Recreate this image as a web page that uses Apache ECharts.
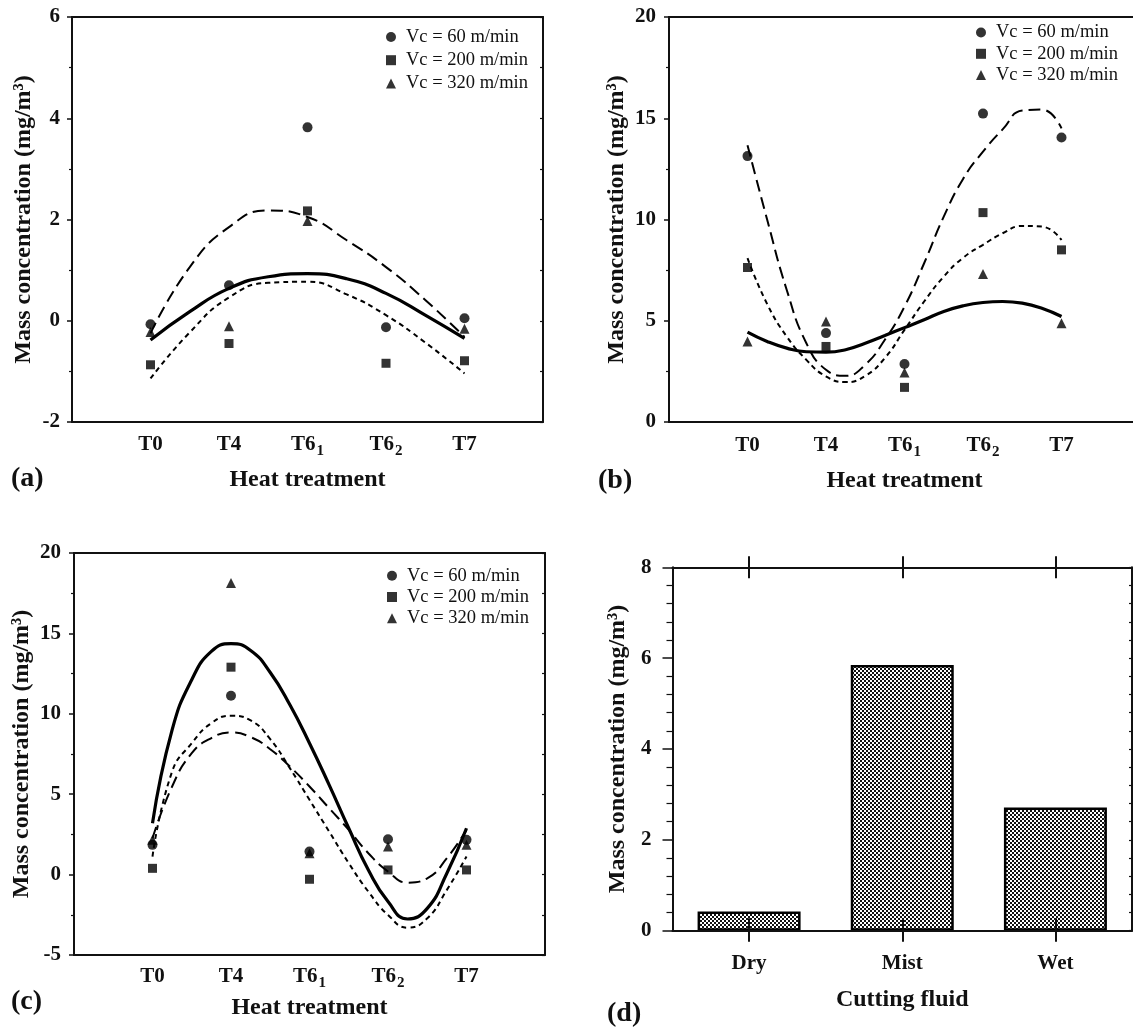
<!DOCTYPE html>
<html><head><meta charset="utf-8">
<script src="https://cdn.jsdelivr.net/npm/echarts@6/dist/echarts.min.js"></script>
<style>html,body{margin:0;padding:0;background:#fff}#c{width:1133px;height:1028px}</style>
</head><body><div id="c"></div>
<script>
// ---------- DATA ----------
const catIdx  = [0, 1, 2, 3, 4];
const catMain = ['T0', 'T4', 'T6', 'T6', 'T7'];
const catSub  = ['', '', '1', '2', ''];
const N60 = 'Vc = 60 m/min', N200 = 'Vc = 200 m/min', N320 = 'Vc = 320 m/min';

// panel (a)
const a60  = [-0.07, 0.70, 3.82, -0.13, 0.05];
const a200 = [-0.87, -0.45, 2.17, -0.84, -0.79];
const a320 = [-0.22, -0.11, 1.97, null, -0.16];
const aFitX   = [0, 0.5, 1, 1.5, 2, 2.5, 3, 3.5, 4];
const aFit60  = [-0.25, 1.06, 1.85, 2.18, 2.05, 1.59, 1.06, 0.41, -0.32];
const aFit200 = [-1.14, -0.23, 0.46, 0.75, 0.77, 0.52, 0.11, -0.43, -1.04];
const aFit320 = [-0.38, 0.18, 0.64, 0.87, 0.93, 0.83, 0.54, 0.11, -0.35];

// panel (b)
const b60  = [13.13, 4.39, 2.86, 15.23, 14.05];
const b200 = [7.63, 3.73, 1.71, 10.34, 8.50];
const b320 = [3.98, 4.96, 2.45, 7.31, 4.88];
const bFitX   = [0, 0.25, 0.5, 0.75, 1, 1.25, 1.5, 1.75, 2, 2.25, 2.5, 2.75, 3, 3.25, 3.5, 3.75, 4];
const bFit60  = [13.67, 10.0, 6.52, 3.89, 2.58, 2.28, 2.83, 4.06, 5.70, 7.84, 10.14, 12.03, 13.35, 14.45, 15.38, 15.43, 14.50];
const bFit200 = [8.09, 5.83, 4.22, 3.07, 2.25, 1.97, 2.28, 3.16, 4.55, 5.95, 7.18, 8.12, 8.75, 9.32, 9.68, 9.65, 8.99];
const bFit320 = [4.44, 3.98, 3.65, 3.47, 3.45, 3.57, 3.89, 4.27, 4.66, 5.05, 5.46, 5.74, 5.90, 5.95, 5.87, 5.62, 5.21];

// panel (c)
const c60  = [1.85, 11.12, 1.43, 2.20, 2.16];
const c200 = [0.39, 12.90, -0.29, 0.29, 0.29];
const c320 = [2.16, 18.13, 1.33, 1.74, 1.85];
const cFitX   = [0, 0.25, 0.5, 0.75, 1, 1.25, 1.5, 1.75, 2, 2.25, 2.5, 2.75, 3, 3.25, 3.5, 3.75, 4];
const cFit60  = [2.26, 5.48, 7.55, 8.49, 8.84, 8.55, 7.80, 6.72, 5.48, 4.13, 2.78, 1.33, 0.19, -0.50, -0.23, 1.02, 2.78];
const cFit200 = [1.12, 6.41, 8.17, 9.42, 9.88, 9.59, 8.42, 6.62, 4.65, 2.68, 0.71, -1.06, -2.51, -3.30, -2.72, -0.95, 1.12];
const cFit320 = [3.20, 9.00, 12.12, 13.88, 14.36, 13.94, 12.57, 10.56, 8.17, 5.58, 2.88, 0.29, -1.68, -2.76, -2.10, 0.08, 2.88];

// panel (d)
const dCat  = ['Dry', 'Mist', 'Wet'];
const dVals = [0.42, 5.85, 2.71];

// ---------- STYLE ----------
const F = "'Liberation Serif','Times New Roman',serif";
const K = '#111';
const yName = 'Mass concentration (mg/m\u00B3)';
const titleStyle = {fontFamily: F, fontSize: 24, fontWeight: 'bold', color: K};
const tickStyle = {fontFamily: F, fontSize: 21, fontWeight: 'bold', color: K};
const solidL = {color: '#000', width: 3.2, type: 'solid'};
const longL  = {color: '#000', width: 2, type: [12, 6]};
const shortL = {color: '#000', width: 2, type: [5, 4]};
const spine = {color: K, width: 2};
const dRect = {left: 672.5, top: 567.3, width: 459.5, height: 363.4, outerBoundsMode: 'none'};

const catRich = {
  m: {fontFamily: F, fontSize: 21, fontWeight: 'bold', color: K, lineHeight: 22, verticalAlign: 'top'},
  s: {fontFamily: F, fontSize: 15, fontWeight: 'bold', color: K, lineHeight: 15, verticalAlign: 'top', padding: [10, 0, 0, 1]}
};
function catFmt(v) {
  const i = Math.round(v);
  if (Math.abs(v - i) > 1e-6 || i < 0 || i > 4) return '';
  return catSub[i] ? '{m|' + catMain[i] + '}{s|' + catSub[i] + '}' : '{m|' + catMain[i] + '}';
}

function xBottom(gi, gap, margin) {
  return {type: 'value', gridIndex: gi, position: 'bottom', min: -1, max: 5, interval: 1,
    axisLine: {show: true, onZero: false, lineStyle: spine},
    axisTick: {show: false}, splitLine: {show: false},
    axisLabel: {margin: margin, formatter: catFmt, rich: catRich, color: K},
    name: 'Heat treatment', nameLocation: 'middle', nameGap: gap, nameTextStyle: titleStyle};
}
function xTop(gi) {
  return {type: 'value', gridIndex: gi, position: 'top', min: -1, max: 5, interval: 1,
    axisLine: {show: true, onZero: false, lineStyle: spine},
    axisTick: {show: false}, axisLabel: {show: false}, splitLine: {show: false}};
}
function yLeft(gi, min, max, interval, gap, margin, tickLen, minorSplit, minorLen) {
  return {type: 'value', gridIndex: gi, position: 'left', min: min, max: max, interval: interval,
    axisLine: {show: true, onZero: false, lineStyle: spine},
    axisTick: {show: true, length: tickLen, lineStyle: {color: K, width: 1.5}},
    minorTick: {show: true, splitNumber: minorSplit, length: minorLen, lineStyle: {color: K, width: 1.2}},
    splitLine: {show: false}, minorSplitLine: {show: false},
    axisLabel: Object.assign({margin: margin}, tickStyle),
    name: yName, nameLocation: 'middle', nameGap: gap, nameTextStyle: titleStyle};
}
function yRight(gi, min, max, interval) {
  return {type: 'value', gridIndex: gi, position: 'right', min: min, max: max, interval: interval,
    axisLine: {show: true, onZero: false, lineStyle: spine},
    axisTick: {show: true, inside: true, length: 3, lineStyle: {color: K, width: 1.2}},
    axisLabel: {show: false}, splitLine: {show: false}};
}
function dCatAxis(gi, pos, showLine, inside, len) {
  return {type: 'category', gridIndex: gi, position: pos, data: dCat, z: 5,
    axisLine: {show: showLine, onZero: false, lineStyle: spine},
    axisTick: {show: true, inside: inside, alignWithLabel: true, length: len, lineStyle: {color: K, width: 2}},
    axisLabel: {show: false}, splitLine: {show: false}};
}
function scat(name, sym, size, gi, vals) {
  const pts = [];
  catIdx.forEach(function (x, i) { if (vals[i] !== null) pts.push([x, vals[i]]); });
  return {type: 'scatter', name: name, xAxisIndex: gi * 2, yAxisIndex: gi * 2, symbol: sym,
    symbolSize: size, itemStyle: {color: '#000'}, z: 4, silent: true, data: pts};
}
function fit(gi, xs, ys, style) {
  return {type: 'line', xAxisIndex: gi * 2, yAxisIndex: gi * 2, showSymbol: false, symbol: 'none',
    smooth: 0.5, lineStyle: style, z: 3, silent: true,
    data: xs.map(function (x, i) { return [x, ys[i]]; })};
}
function legend(left, top, gap) {
  return {orient: 'vertical', left: left, top: top, itemGap: gap, itemWidth: 10, itemHeight: 10,
    selectedMode: false, padding: 0,
    textStyle: {fontFamily: F, fontSize: 18.5, color: K, padding: [0, 0, 0, 5], lineHeight: 20},
    data: [{name: N60, icon: 'circle'}, {name: N200, icon: 'rect'}, {name: N320, icon: 'triangle'}]};
}
function panelLabel(t, left, top) {
  return {text: t, left: left, top: top, padding: 0,
    textStyle: {fontFamily: F, fontSize: 28, fontWeight: 'bold', color: K}};
}

// bar pattern
const pc = document.createElement('canvas');
pc.width = 4; pc.height = 4;
const pctx = pc.getContext('2d');
pctx.fillStyle = '#fff'; pctx.fillRect(0, 0, 4, 4);
pctx.fillStyle = '#111'; pctx.fillRect(0, 0, 2, 2); pctx.fillRect(2, 2, 2, 2);

const dBottom = dCatAxis(3, 'bottom', true, false, 11);
dBottom.axisLabel = Object.assign({show: true, margin: 22}, tickStyle);
dBottom.name = 'Cutting fluid';
dBottom.nameLocation = 'middle';
dBottom.nameGap = 57;
dBottom.nameTextStyle = titleStyle;

const option = {
  animation: false,
  backgroundColor: '#fff',
  textStyle: {fontFamily: F},
  title: [
    panelLabel('(a)', 11, 465), panelLabel('(b)', 598, 467),
    panelLabel('(c)', 11, 988), panelLabel('(d)', 607, 1000)
  ],
  legend: [legend(386, 27, 3.2), legend(976, 22.5, 1.3), legend(387, 565.7, 1.3)],
  grid: [
    {left: 72, top: 17, width: 471, height: 405, outerBoundsMode: 'none'},
    {left: 669, top: 17, width: 471, height: 405, outerBoundsMode: 'none'},
    {left: 74, top: 553, width: 471, height: 402, outerBoundsMode: 'none'},
    dRect,
    Object.assign({}, dRect)
  ],
  xAxis: [
    xBottom(0, 46, 12), xTop(0),
    xBottom(1, 47, 13), xTop(1),
    xBottom(2, 41, 11), xTop(2),
    dBottom, dCatAxis(3, 'top', true, false, 11),
    dCatAxis(4, 'bottom', false, true, 12.5), dCatAxis(4, 'top', false, true, 11)
  ],
  yAxis: [
    yLeft(0, -2, 6, 2, 36, 12, 5, 2, 3), yRight(0, -2, 6, 1),
    yLeft(1, 0, 20, 5, 40, 13, 5, 2, 3), yRight(1, 0, 20, 2.5),
    yLeft(2, -5, 20, 5, 40, 13, 5, 2, 3), yRight(2, -5, 20, 2.5),
    yLeft(3, 0, 8, 2, 43, 21, 10, 5, 6), yRight(3, 0, 8, 0.4),
    {type: 'value', gridIndex: 4, min: 0, max: 8, show: false}
  ],
  series: [
    fit(0, aFitX, aFit60, longL), fit(0, aFitX, aFit200, shortL), fit(0, aFitX, aFit320, solidL),
    scat(N320, 'triangle', 10, 0, a320), scat(N200, 'rect', 9, 0, a200), scat(N60, 'circle', 10, 0, a60),

    fit(1, bFitX, bFit60, longL), fit(1, bFitX, bFit200, shortL), fit(1, bFitX, bFit320, solidL),
    scat(N320, 'triangle', 10, 1, b320), scat(N200, 'rect', 9, 1, b200), scat(N60, 'circle', 10, 1, b60),

    fit(2, cFitX, cFit60, longL), fit(2, cFitX, cFit200, shortL), fit(2, cFitX, cFit320, solidL),
    scat(N320, 'triangle', 10, 2, c320), scat(N200, 'rect', 9, 2, c200), scat(N60, 'circle', 10, 2, c60),

    {type: 'bar', xAxisIndex: 6, yAxisIndex: 6, data: dVals, barWidth: 103, silent: true, z: 2,
      itemStyle: {color: {image: pc, repeat: 'repeat'}, borderColor: '#000', borderWidth: 2.5}}
  ]
};

const chart = echarts.init(document.getElementById('c'), null, {renderer: 'canvas'});
chart.setOption(option);
</script></body></html>
